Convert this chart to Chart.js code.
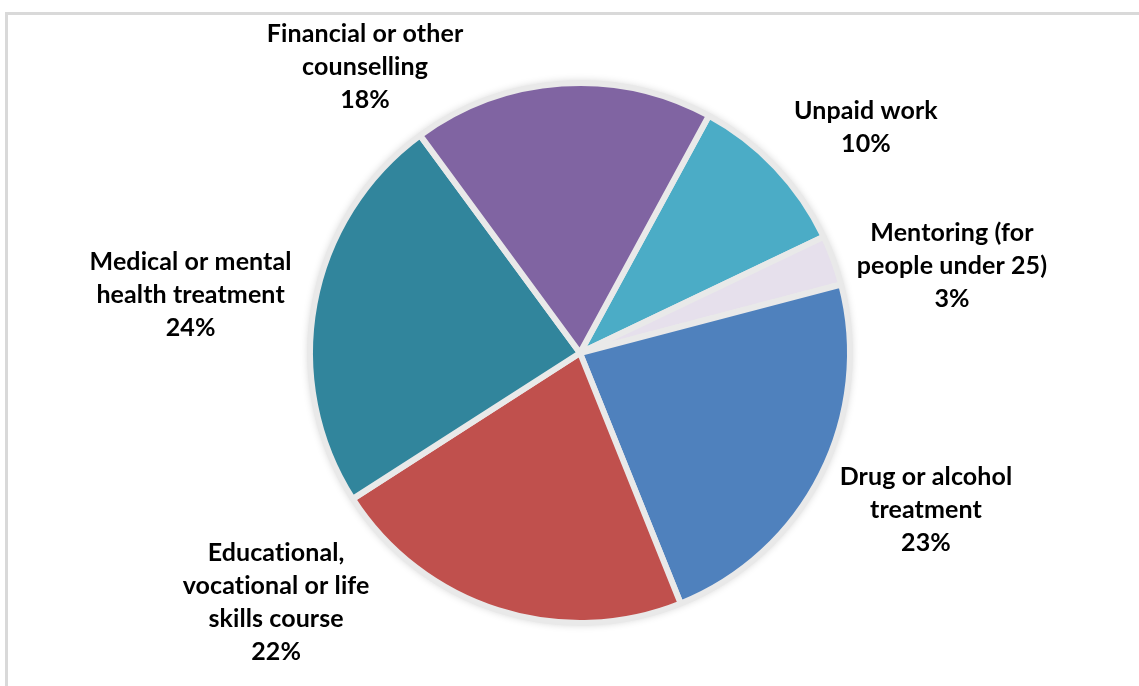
<!DOCTYPE html>
<html>
<head>
<meta charset="utf-8">
<script src="https://cdn.jsdelivr.net/npm/chart.js@4/dist/chart.umd.min.js"></script>
<style>
    html, body { margin: 0; padding: 0; background: #fff; overflow: hidden; }
    .frame {
        position: absolute;
        left: 5px;
        top: 12px;
        width: 1200px;
        height: 760px;
        border: 3px solid #d9d9d9;
        box-sizing: border-box;
    }
    #servicesChart { position: absolute; left: 0; top: 0; }
</style>
</head>
<body>
<div class="frame"></div>
<canvas id="servicesChart" width="1139" height="686"></canvas>
<script>
    // Service types, clockwise from "Unpaid work"
    const categories = [
        'Unpaid work',
        'Mentoring (for people under 25)',
        'Drug or alcohol treatment',
        'Educational, vocational or life skills course',
        'Medical or mental health treatment',
        'Financial or other counselling',
    ];
    const shares = [10, 3, 23, 22, 24, 18];
    const sliceColors = ['#4bacc6', '#e6e0ec', '#4f81bd', '#c0504d', '#31859c', '#8064a2'];

    // Wrapped label text for each slice (percentage line is appended)
    const labelLines = [
        ['Unpaid work'],
        ['Mentoring (for', 'people under 25)'],
        ['Drug or alcohol', 'treatment'],
        ['Educational,', 'vocational or life', 'skills course'],
        ['Medical or mental', 'health treatment'],
        ['Financial or other', 'counselling'],
    ];
    // Label block centres, as multiples of the pie radius from its centre
    const labelAnchors = [
        [1.067, -0.841],
        [1.388, -0.325],
        [1.291, 0.586],
        [-1.134, 0.931],
        [-1.453, -0.218],
        [-0.802, -1.067],
    ];

    const pieShadow = {
        id: 'pieShadow',
        beforeDatasetsDraw(chart) {
            const arc = chart.getDatasetMeta(0).data[0];
            if (!arc) return;
            const ctx = chart.ctx;
            ctx.save();
            ctx.shadowColor = 'rgba(0, 0, 0, 0.22)';
            ctx.shadowBlur = 8;
            ctx.fillStyle = '#e9e9e9';
            ctx.beginPath();
            ctx.arc(arc.x, arc.y, arc.outerRadius + 1, 0, Math.PI * 2);
            ctx.fill();
            ctx.restore();
        },
    };

    const sliceLabels = {
        id: 'sliceLabels',
        afterDatasetsDraw(chart) {
            const ctx = chart.ctx;
            const values = chart.data.datasets[0].data;
            const lineHeight = 33;
            ctx.save();
            ctx.font = "bold 25px Lato, 'Open Sans', sans-serif";
            ctx.letterSpacing = '0.1px'; // keeps Lato from joining "ti"
            ctx.fillStyle = '#000';
            ctx.textAlign = 'center';
            ctx.textBaseline = 'middle';
            chart.getDatasetMeta(0).data.forEach((arc, i) => {
                const lines = labelLines[i].concat([values[i] + '%']);
                const cx = arc.x + labelAnchors[i][0] * 268;
                const cy = arc.y + labelAnchors[i][1] * 268;
                const top = cy - (lines.length - 1) * lineHeight / 2;
                lines.forEach((line, j) => ctx.fillText(line, cx, top + j * lineHeight));
            });
            ctx.restore();
        },
    };

    new Chart(document.getElementById('servicesChart').getContext('2d'), {
        type: 'pie',
        data: {
            labels: categories,
            datasets: [{
                data: shares,
                backgroundColor: sliceColors,
                borderColor: '#e9e9e9',
                borderWidth: 6,
                hoverOffset: 0,
            }],
        },
        options: {
            responsive: false,
            animation: false,
            rotation: 28.5,
            radius: 270,
            layout: { padding: { left: 21, right: 0, top: 20, bottom: 0 } },
            plugins: {
                legend: { display: false },
                tooltip: { enabled: false },
            },
        },
        plugins: [pieShadow, sliceLabels],
    });
</script>
</body>
</html>
